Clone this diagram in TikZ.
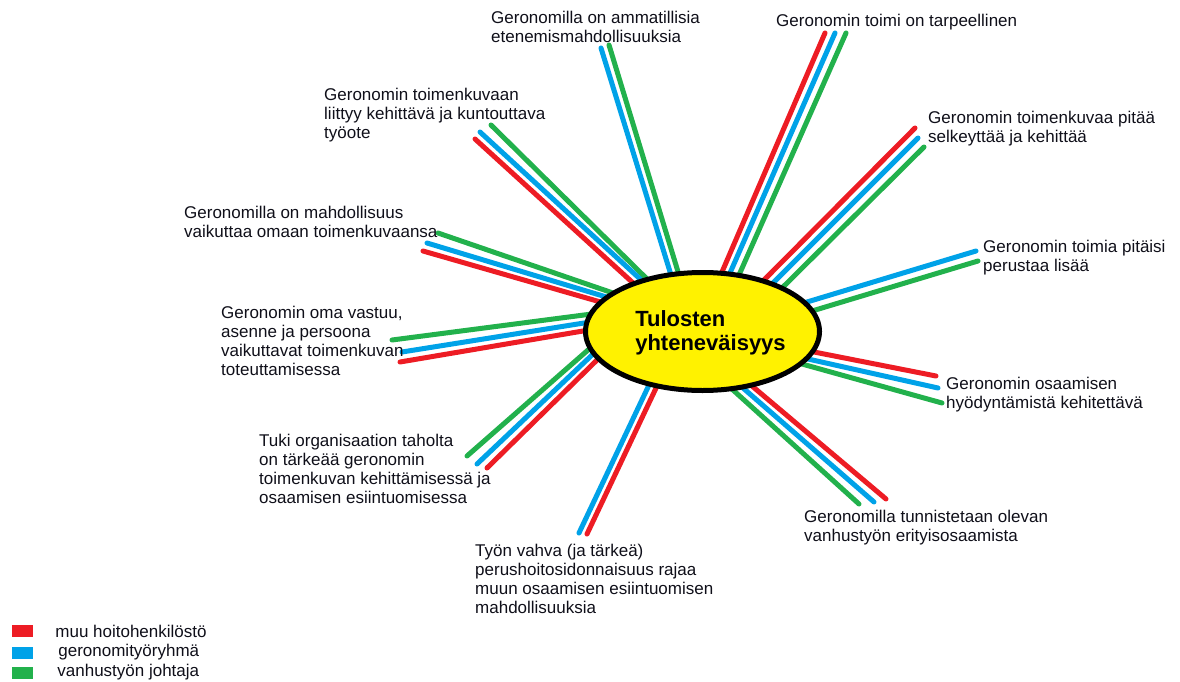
\documentclass[tikz,border=0pt]{standalone}
\usepackage{fontspec}
\setmainfont{Liberation Sans}
\usepackage{xcolor}
\usepackage{tikz}
\usetikzlibrary{shapes,positioning}

\definecolor{hoitored}{RGB}{237,28,36}
\definecolor{geroblue}{RGB}{0,162,232}
\definecolor{johtgreen}{RGB}{34,177,76}
\definecolor{hubyellow}{RGB}{255,242,0}
\definecolor{inktext}{RGB}{15,15,25}

\begin{document}
\begin{tikzpicture}[
    x=1pt, y=-1pt,
    spoke/.style={line width=5pt, line cap=round, shorten <=-8pt},
    r/.style={spoke, hoitored},
    b/.style={spoke, geroblue},
    g/.style={spoke, johtgreen},
    hub/.style={ellipse, draw=black, line width=5pt, fill=hubyellow, minimum width=234pt, minimum height=118pt, inner sep=0pt},
    title/.style={align=left, inner sep=0pt, text=black, font=\fontsize{22}{24}\selectfont\bfseries},
    lbl/.style={anchor=north west, align=left, inner sep=0pt, text=inktext, font=\fontsize{17}{19}\selectfont},
    keybox/.style={rectangle, minimum width=21pt, minimum height=12pt, inner sep=0pt},
    keytext/.style={inner sep=0pt, text=inktext, font=\fontsize{17}{19}\selectfont}
]
\useasboundingbox (0,0) rectangle (1180,682);

% spokes: name/style/inner x/inner y/outer x/outer y
\foreach \n/\s/\xa/\ya/\xb/\yb in {
    a1/b/671/275/601/48, a2/g/679/275/609/45,
    b1/r/722/272/825/33, b2/b/730/273/835/33, b3/g/739/275/846/33,
    c1/r/765/279/915/128, c2/b/773/283/918/138, c3/g/782/288/924/147,
    d1/b/807/302/976/251, d2/g/812/311/978/261,
    e1/r/814/352/936/376, e2/b/808/359/938/388, e3/g/802/364/942/403,
    f1/r/752/386/886/499, f2/b/743/388/874/502, f3/g/733/390/859/504,
    g1/b/649/385/579/533, g2/r/657/386/587/534,
    h1/g/588/350/467/456, h2/b/592/355/477/464, h3/r/597/360/487/468,
    i1/g/584/315/392/340, i2/b/584/323/402/352, i3/r/583/331/400/362,
    j1/g/610/292/438/233, j2/b/603/296/427/243, j3/r/597/301/423/251,
    k1/g/645/277/491/125, k2/b/639/278/480/132, k3/r/632/282/475/139}{
    \coordinate (in-\n) at (\xa,\ya);
    \coordinate (out-\n) at (\xb,\yb);
    \draw[\s] (in-\n) -- (out-\n);
}

\node[hub] (hub) at (702.5,331.5) {};
\node[title, xshift=8pt, yshift=-1pt] (titletext) at (hub) {Tulosten\\yhteneväisyys};

% labels
\node[lbl] (lab-a) at (491,10) {\strut Geronomilla on ammatillisia\\etenemismahdollisuuksia};
\node[lbl] (lab-b) at (776,13) {\strut Geronomin toimi on tarpeellinen};
\node[lbl] (lab-c) at (928,110) {\strut Geronomin toimenkuvaa pitää\\selkeyttää ja kehittää};
\node[lbl] (lab-d) at (983,239) {\strut Geronomin toimia pitäisi\\perustaa lisää};
\node[lbl] (lab-e) at (946,376) {\strut Geronomin osaamisen\\hyödyntämistä kehitettävä};
\node[lbl] (lab-f) at (804,509) {\strut Geronomilla tunnistetaan olevan\\vanhustyön erityisosaamista};
\node[lbl] (lab-g) at (475,543) {\strut Työn vahva (ja tärkeä)\\perushoitosidonnaisuus rajaa\\muun osaamisen esiintuomisen\\mahdollisuuksia};
\node[lbl] (lab-h) at (259,433) {\strut Tuki organisaation taholta\\on tärkeää geronomin\\toimenkuvan kehittämisessä ja\\osaamisen esiintuomisessa};
\node[lbl] (lab-i) at (221,305) {\strut Geronomin oma vastuu,\\asenne ja persoona\\vaikuttavat toimenkuvan\\toteuttamisessa};
\node[lbl] (lab-j) at (184,205) {\strut Geronomilla on mahdollisuus\\vaikuttaa omaan toimenkuvaansa};
\node[lbl] (lab-k) at (324,87) {\strut Geronomin toimenkuvaan\\liittyy kehittävä ja kuntouttava\\työote};

% legend
\node[keybox, fill=hoitored] (key-r) at (22.5,631) {};
\node[keybox, fill=geroblue] (key-b) at (22.5,652.5) {};
\node[keybox, fill=johtgreen] (key-g) at (22.5,672.5) {};
\node[keytext, right=22pt of key-r] (keytext-r) {muu hoitohenkilöstö};
\node[keytext, right=25pt of key-b] (keytext-b) {geronomityöryhmä};
\node[keytext, right=24pt of key-g] (keytext-g) {vanhustyön johtaja};
\end{tikzpicture}
\end{document}
